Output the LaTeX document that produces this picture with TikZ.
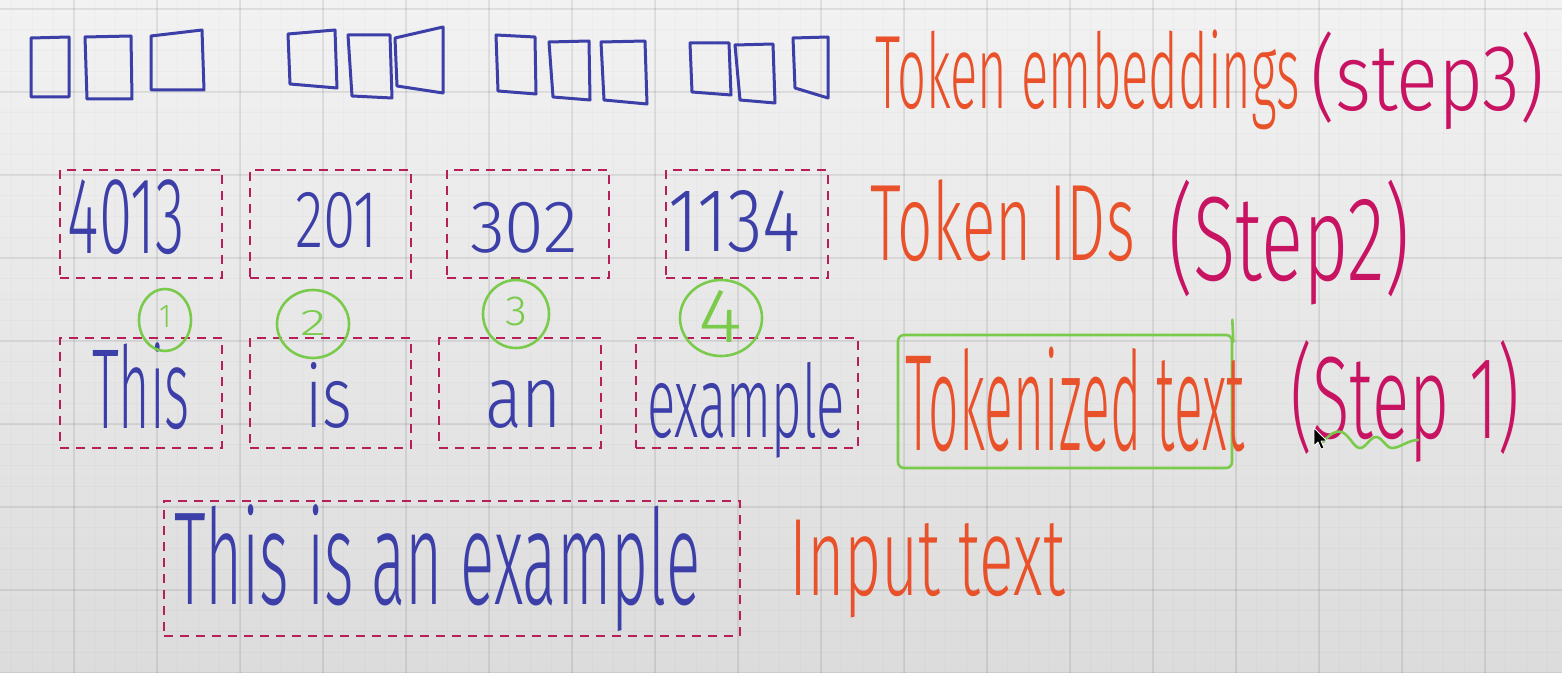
\documentclass[tikz,border=0pt]{standalone}
\usepackage{fontspec}
\usepackage{graphicx}
\usetikzlibrary{shapes.geometric}
\IfFontExistsTF{Fira Sans Light}{\newfontfamily\hand{Fira Sans Light}}{%
  \IfFontExistsTF{Lato Light}{\newfontfamily\hand{Lato Light}}{\newfontfamily\hand{Fira Sans}}}
\newdimen\px \px=0.5pt
% #1 width px, #2 total height px, #3 depth px, #4 text
\newcommand\fg[4]{\setbox0=\hbox{\resizebox*{#1\px}{#2\px}{\hand #4}}\raise\dimexpr\dp0-#3\px\relax\box0}
\definecolor{blueink}{HTML}{3C3FA8}
\definecolor{orangeink}{HTML}{E8512A}
\definecolor{magink}{HTML}{C81262}
\definecolor{dashcol}{HTML}{B81E5A}
\definecolor{greenink}{HTML}{7ACB4B}
\definecolor{bgtop}{HTML}{F2F2F2}
\definecolor{bgbot}{HTML}{DCDCDC}
\tikzset{
  hw/.style={anchor=base west, inner sep=0pt, outer sep=0pt},
  inkb/.style={text=blueink},
  inko/.style={text=orangeink},
  inkm/.style={text=magink},
  inkg/.style={text=greenink},
  dbox/.style={draw=dashcol, line width=1.2pt, dash pattern=on 4.5pt off 3.5pt, rectangle, inner sep=0pt},
  embrect/.style={draw=blueink, line width=1.5pt, line join=round, line cap=round},
  circmark/.style={ellipse, draw=greenink, line width=1.3pt, inner sep=0pt},
  greenline/.style={draw=greenink, line width=1.3pt, line cap=round, line join=round},
  gridmaj/.style={draw=black, opacity=0.07, line width=0.6pt},
  gridmin/.style={draw=black, opacity=0.02, line width=0.5pt}
}
\begin{document}
\begin{tikzpicture}[x=0.5pt, y=-0.5pt]
\useasboundingbox (0,0) rectangle (1562,673);
\clip (0,0) rectangle (1562,673);
\fill[top color=bgtop, bottom color=bgbot] (0,0) rectangle (1562,673);
% grid
\foreach \k in {-4,...,75} {\draw[gridmin] ({74+20.75*\k},0) -- ({74+20.75*\k},673);}
\foreach \k in {0,...,33} {\draw[gridmin] (0,{9+20.75*\k}) -- (1562,{9+20.75*\k});}
\foreach \k in {0,...,18} {\draw[gridmaj] ({74+83*\k},0) -- ({74+83*\k},673);}
\foreach \k in {0,...,8} {\draw[gridmaj] (0,{9+83*\k}) -- (1562,{9+83*\k});}

% row 1: token embeddings (hand-drawn rectangles)
\draw[embrect] (31,38) -- (69,37) -- (69,97) -- (31,97) -- cycle;
\draw[embrect] (85,37) -- (131,36) -- (132,99) -- (87,99) -- cycle;
\draw[embrect] (151,36) -- (202,30) -- (204,90) -- (151,90) -- cycle;
\draw[embrect] (288,34) -- (335,30) -- (337,88) -- (290,84) -- cycle;
\draw[embrect] (348,35) -- (390,35) -- (392,98) -- (352,96) -- cycle;
\draw[embrect] (395,38) -- (443,27) -- (443,93) -- (397,86) -- cycle;
\draw[embrect] (496,35) -- (535,37) -- (536,94) -- (498,91) -- cycle;
\draw[embrect] (549,42) -- (589,41) -- (590,100) -- (553,97) -- cycle;
\draw[embrect] (601,42) -- (645,41) -- (647,104) -- (604,100) -- cycle;
\draw[embrect] (690,43) -- (729,43) -- (731,95) -- (692,92) -- cycle;
\draw[embrect] (735,45) -- (773,44) -- (775,103) -- (740,100) -- cycle;
\draw[embrect] (793,38) -- (828,37) -- (828,98) -- (795,88) -- cycle;
\node[hw, inko] (lemb) at (875,97) {\fg{425}{100}{33}{Token embeddings}};
\node[hw, inkm] (lstep3) at (1310,100) {\fg{235}{98}{30}{(step3)}};

% row 2: token IDs
\node[dbox, minimum width=81pt, minimum height=54pt] (b1) at (141,224) {};
\node[dbox, minimum width=80.5pt, minimum height=54pt] (b2) at (330.5,224) {};
\node[dbox, minimum width=81pt, minimum height=54pt] (b3) at (528,224) {};
\node[dbox, minimum width=81pt, minimum height=54pt] (b4) at (747,224) {};
\node[hw, inkb] (id1) at (68,255) {\fg{117}{75}{0}{4013}};
\node[hw, inkb] (id2) at (295,248) {\fg{83}{56}{0}{201}};
\node[hw, inkb] (id3) at (470,253) {\fg{108}{51}{0}{302}};
\node[hw, inkb] (id4) at (668,252) {\fg{132}{62}{0}{1134}};
\node[hw, inko] (lids) at (870,262) {\fg{265}{82}{0}{Token IDs}};
\node[hw, inkm] (lstep2) at (1168,270) {\fg{242}{125}{35}{(Step2)}};

% row 3: tokenized text
\node[dbox, minimum width=81pt, minimum height=55pt] (t1) at (141,393) {};
\node[dbox, minimum width=80.5pt, minimum height=55pt] (t2) at (330.5,393) {};
\node[dbox, minimum width=81pt, minimum height=55pt] (t3) at (520,393) {};
\node[dbox, minimum width=111pt, minimum height=55pt] (t4) at (747,393) {};
\node[hw, inkb] (w1) at (92,430) {\fg{98}{87}{0}{This}};
\node[hw, inkb] (w2) at (305,428) {\fg{47}{66}{0}{is}};
\node[hw, inkb] (w3) at (485,428) {\fg{77}{48}{0}{an}};
\node[hw, inkb] (w4) at (647,428) {\fg{198}{96}{30}{example}};
\node[circmark, minimum width=26pt, minimum height=31pt] (c1) at (165,320) {};
\node[circmark, minimum width=36pt, minimum height=34pt] (c2) at (313,324) {};
\node[circmark, minimum width=33pt, minimum height=34pt] (c3) at (516,314) {};
\node[circmark, minimum width=41pt, minimum height=38pt] (c4) at (721,318) {};
\node[hw, inkg] (n1) at (159,328) {\fg{12}{22}{0}{1}};
\node[hw, inkg] (n2) at (300,336) {\fg{26}{25}{0}{2}};
\node[hw, inkg] (n3) at (505,326) {\fg{22}{29}{0}{3}};
\node[hw, inkg] (n4) at (698,343) {\fg{44}{52}{0}{4}};
\node[draw=greenink, line width=1.3pt, rounded corners=3pt, minimum width=167pt, minimum height=66.5pt, inner sep=0pt] (gbox) at (1065,401.5) {};
\draw[greenline] ([yshift=-4pt]gbox.north east) -- ++(-1,-22);
\node[hw, inko] (ltok) at (905,432) {\fg{340}{105}{20}{Tokenized text}};
\node[hw, inkm] (lstep1) at (1290,425) {\fg{230}{122}{37}{(Step 1)}};
% green squiggle under "Step 1"
\draw[greenline] (1323,442) .. controls (1330,434) and (1336,430) .. (1342,432)
  .. controls (1350,436) and (1354,448) .. (1360,448)
  .. controls (1366,448) and (1370,437) .. (1376,437)
  .. controls (1382,437) and (1386,448) .. (1392,448)
  .. controls (1400,448) and (1408,440) .. (1418,440);
% mouse cursor
\filldraw[fill=black, draw=white, line width=0.4pt, line join=round]
  (1314,428) -- (1314,446) -- (1318,442) -- (1321,449) -- (1324,448) -- (1321,441) -- (1327,441) -- cycle;

% row 4: input text
\node[dbox, minimum width=288pt, minimum height=67.5pt] (ibox) at (452,568.5) {};
\node[hw, inkb] (inp) at (174,598) {\fg{526}{127}{34}{This is an example}};
\node[hw, inko] (linp) at (789,592) {\fg{276}{98}{26}{Input text}};
\end{tikzpicture}
\end{document}
